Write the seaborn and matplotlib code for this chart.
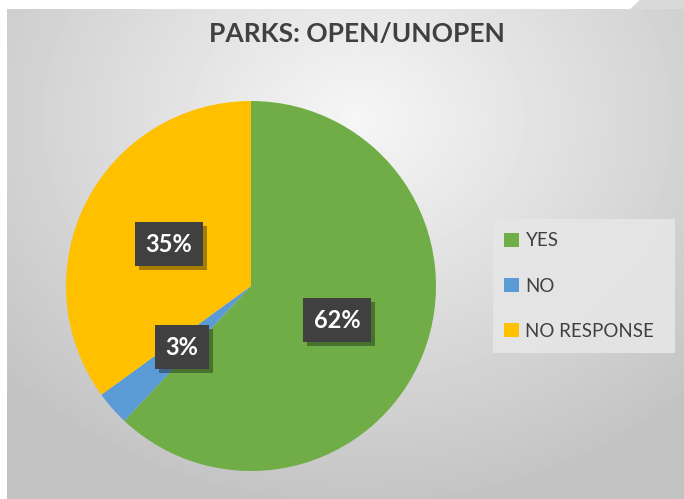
import numpy as np
import matplotlib
matplotlib.use("Agg")
import matplotlib.pyplot as plt
import matplotlib.patheffects as pe
from matplotlib.patches import Rectangle, Polygon
import seaborn as sns

labels = ["YES", "NO", "NO RESPONSE"]
values = [62, 3, 35]
colors = ["#70AD47", "#5B9BD5", "#FFC000"]
title = "PARKS: OPEN/UNOPEN"

sns.set_style("white")
plt.rcParams["font.family"] = ["Lato", "DejaVu Sans"]

W, H = 684, 499
fig = plt.figure(figsize=(W / 100, H / 100), dpi=100)
fig.patch.set_facecolor("white")

# gray radial background of the chart area
bg = fig.add_axes([7 / W, 0, 1 - 7 / W, (H - 9) / H])
yy, xx = np.mgrid[0:H - 9, 0:W - 7]
d = np.sqrt(((xx - 350) / 520.0) ** 2 + ((yy - 110) / 430.0) ** 2)
shade = np.clip(0.965 - 0.22 * d, 0.76, 0.97)
bg.imshow(shade, cmap="gray", vmin=0, vmax=1, aspect="auto",
          extent=[0, 1, 0, 1], origin="upper")
bg.set_axis_off()
fig.add_artist(Polygon([[640 / W, 1], [1, 1], [1, (H - 9) / H], [630 / W, (H - 9) / H]],
                       closed=True, transform=fig.transFigure,
                       facecolor="#d9d9d9", edgecolor="none"))

cx, cy, r = 251, 286, 185
ax = fig.add_axes([(cx - r) / W, (H - cy - r) / H, 2 * r / W, 2 * r / H])
wedges, texts, autotexts = ax.pie(
    values, colors=colors, startangle=90, counterclock=False,
    autopct=lambda p: f"{p:.0f}%", pctdistance=0.5,
    wedgeprops=dict(linewidth=0),
    textprops=dict(color="white", fontsize=17, fontweight="bold"),
)
ax.set_xlim(-1, 1)
ax.set_ylim(-1, 1)
ax.set_axis_off()
for t in autotexts:
    t.set_bbox(dict(boxstyle="square,pad=0.45", facecolor="#404040", edgecolor="none"))
    t.get_bbox_patch().set_path_effects(
        [pe.withSimplePatchShadow(offset=(3, -3), shadow_rgbFace="black", alpha=0.35)])

fig.text(357 / W, 1 - 34 / H, title, ha="center", va="center",
         fontsize=19, fontweight="bold", color="#404040")

# legend box
fig.add_artist(Rectangle((493 / W, (H - 353) / H), 182 / W, 134 / H,
                         transform=fig.transFigure, facecolor="#e6e6e6",
                         edgecolor="none", alpha=0.9))
fig.legend(wedges, labels, loc="center left",
           bbox_to_anchor=(487 / W, (H - 286) / H), frameon=False,
           fontsize=13.5, labelcolor="#404040", handlelength=0.8,
           handleheight=0.8, handletextpad=0.35, labelspacing=1.5)

fig.savefig("out.png", dpi=100)
plt.close(fig)
